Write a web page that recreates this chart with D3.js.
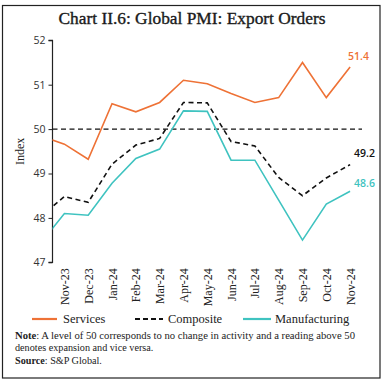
<!DOCTYPE html>
<html>
<head>
<meta charset="utf-8">
<script src="https://cdn.jsdelivr.net/npm/d3@7"></script>
<style>
  html, body { margin: 0; padding: 0; background: #fff; }
  svg { display: block; }
</style>
</head>
<body>
<svg id="chart" width="387" height="386"></svg>
<script>
// ---- data ----
// "Oct-23" is the off-axis lead-in point; only its segment up to the axis is visible
const months = ["Oct-23","Nov-23","Dec-23","Jan-24","Feb-24","Mar-24","Apr-24","May-24","Jun-24","Jul-24","Aug-24","Sep-24","Oct-24","Nov-24"];
const services      = [49.85, 49.66, 49.32, 50.57, 50.39, 50.60, 51.10, 51.02, 50.80, 50.60, 50.71, 51.50, 50.71, 51.40];
const composite     = [48.03, 48.48, 48.35, 49.21, 49.64, 49.79, 50.60, 50.59, 49.72, 49.62, 48.91, 48.50, 48.90, 49.20];
const manufacturing = [47.43, 48.10, 48.06, 48.78, 49.34, 49.55, 50.41, 50.40, 49.30, 49.30, 48.40, 47.50, 48.31, 48.60];
const yTicks = [47, 48, 49, 50, 51, 52];
const xLabels = months.slice(1);
const title = "Chart II.6: Global PMI: Export Orders";
const seriesNames = ["Services", "Composite", "Manufacturing"];
const endLabels = ["51.4", "49.2", "48.6"];

const colors = { Services: "#EE7236", Composite: "#111111", Manufacturing: "#3FC3C0" };
const serif = "'Liberation Serif', 'DejaVu Serif', serif";
const sans = "'Open Sans', 'Noto Sans', sans-serif";

const svg = d3.select("#chart");

// border
svg.append("rect").attr("x", 2.5).attr("y", 5.5).attr("width", 377.5).attr("height", 372.5)
  .attr("fill", "none").attr("stroke", "#222").attr("stroke-width", 1.2);

// title
svg.append("text").attr("x", 192).attr("y", 24).attr("text-anchor", "middle")
  .attr("font-family", serif).attr("font-size", 16.5).attr("fill", "#1a1a1a")
  .attr("stroke", "#1a1a1a").attr("stroke-width", 0.35)
  .attr("textLength", 267).attr("lengthAdjust", "spacingAndGlyphs")
  .text(title);

const plot = { left: 52.5, right: 362, top: 40.3, bottom: 262.3 };

// index -1 = Oct-23 ; domain starts half step before Nov-23
const x = d3.scaleLinear().domain([-0.5, 12.5]).range([plot.left, plot.right]);
const y = d3.scaleLinear().domain([47, 52]).range([plot.bottom, plot.top]);

svg.append("defs").append("clipPath").attr("id", "clip")
  .append("rect").attr("x", plot.left).attr("y", 0).attr("width", plot.right - plot.left + 20).attr("height", 386);

// y axis
const yAxis = d3.axisLeft(y).tickValues(yTicks).tickSize(4).tickPadding(3).tickFormat(d3.format("d"));
const gy = svg.append("g").attr("transform", `translate(${plot.left},0)`).call(yAxis);
gy.select(".domain").attr("stroke", "#222").attr("stroke-width", 1.2).attr("d", `M-4,${plot.top}H0V${plot.bottom}H-4`);
gy.selectAll(".tick line").attr("stroke", "#222");
gy.selectAll(".tick text").attr("font-family", sans).attr("font-size", 10.5).attr("fill", "#333");

// y axis title
svg.append("text").attr("transform", `translate(24,${(plot.top + plot.bottom) / 2}) rotate(-90)`)
  .attr("text-anchor", "middle").attr("font-family", serif).attr("font-size", 12).attr("fill", "#222")
  .text("Index");

// x labels
const xAxis = d3.axisBottom(x).tickValues(d3.range(0, 13)).tickSize(0).tickFormat(i => xLabels[i]);
const gx = svg.append("g").attr("transform", `translate(0,${plot.bottom})`).call(xAxis);
gx.select(".domain").remove();
gx.selectAll(".tick text")
  .attr("font-family", serif).attr("font-size", 12).attr("fill", "#222")
  .attr("text-anchor", "end").attr("dy", null)
  .attr("transform", "translate(4,6) rotate(-90)")
  .attr("x", 0).attr("y", 0);

// reference line at 50
svg.append("line").attr("x1", plot.left).attr("x2", plot.right).attr("y1", y(50)).attr("y2", y(50))
  .attr("stroke", "#111").attr("stroke-width", 1.3).attr("stroke-dasharray", "5,3.5");

// series
const data = [
  { name: "Services", values: services, dash: null },
  { name: "Composite", values: composite, dash: "5,3.5" },
  { name: "Manufacturing", values: manufacturing, dash: null }
];
const line = d3.line().x((d, i) => x(i - 1)).y(d => y(d));
const g = svg.append("g").attr("clip-path", "url(#clip)");
data.forEach(s => {
  g.append("path").datum(s.values).attr("d", line)
    .attr("fill", "none").attr("stroke", colors[s.name]).attr("stroke-width", 1.6)
    .attr("stroke-dasharray", s.dash).attr("stroke-linejoin", "miter");
});

// end labels
const lastI = months.length - 1;
const labelOffsets = [-7, -8, -4];
data.forEach((s, k) => {
  svg.append("text").attr("x", x(lastI - 1) + 3 + (k === 0 ? -5 : 1)).attr("y", y(s.values[lastI]) + labelOffsets[k])
    .attr("font-family", sans).attr("font-size", 10.5).attr("font-weight", 600)
    .attr("fill", k === 1 ? "#111" : colors[s.name])
    .text(endLabels[k]);
});

// legend
const legendY = 319;
const legendItems = [
  { name: seriesNames[0], x1: 32, x2: 57, tx: 63, dash: null },
  { name: seriesNames[1], x1: 135, x2: 163, tx: 168, dash: "5,3" },
  { name: seriesNames[2], x1: 243, x2: 271, tx: 275, dash: null }
];
legendItems.forEach(it => {
  svg.append("line").attr("x1", it.x1).attr("x2", it.x2).attr("y1", legendY).attr("y2", legendY)
    .attr("stroke", colors[it.name]).attr("stroke-width", 2.2).attr("stroke-dasharray", it.dash);
  svg.append("text").attr("x", it.tx).attr("y", legendY + 4).attr("font-family", serif)
    .attr("font-size", 12.5).attr("fill", "#222").text(it.name);
});

// notes
const note = svg.append("text").attr("x", 15).attr("y", 339).attr("font-family", serif).attr("font-size", 10.2).attr("fill", "#222")
  .attr("textLength", 340).attr("lengthAdjust", "spacingAndGlyphs");
note.append("tspan").attr("font-weight", "bold").text("Note");
note.append("tspan").text(": A level of 50 corresponds to no change in activity and a reading above 50");
svg.append("text").attr("x", 15).attr("y", 350.5).attr("font-family", serif).attr("font-size", 10.2).attr("fill", "#222")
  .text("denotes expansion and vice versa.");
const src = svg.append("text").attr("x", 15).attr("y", 364).attr("font-family", serif).attr("font-size", 10.2).attr("fill", "#222");
src.append("tspan").attr("font-weight", "bold").text("Source");
src.append("tspan").text(": S&P Global.");
</script>
</body>
</html>
